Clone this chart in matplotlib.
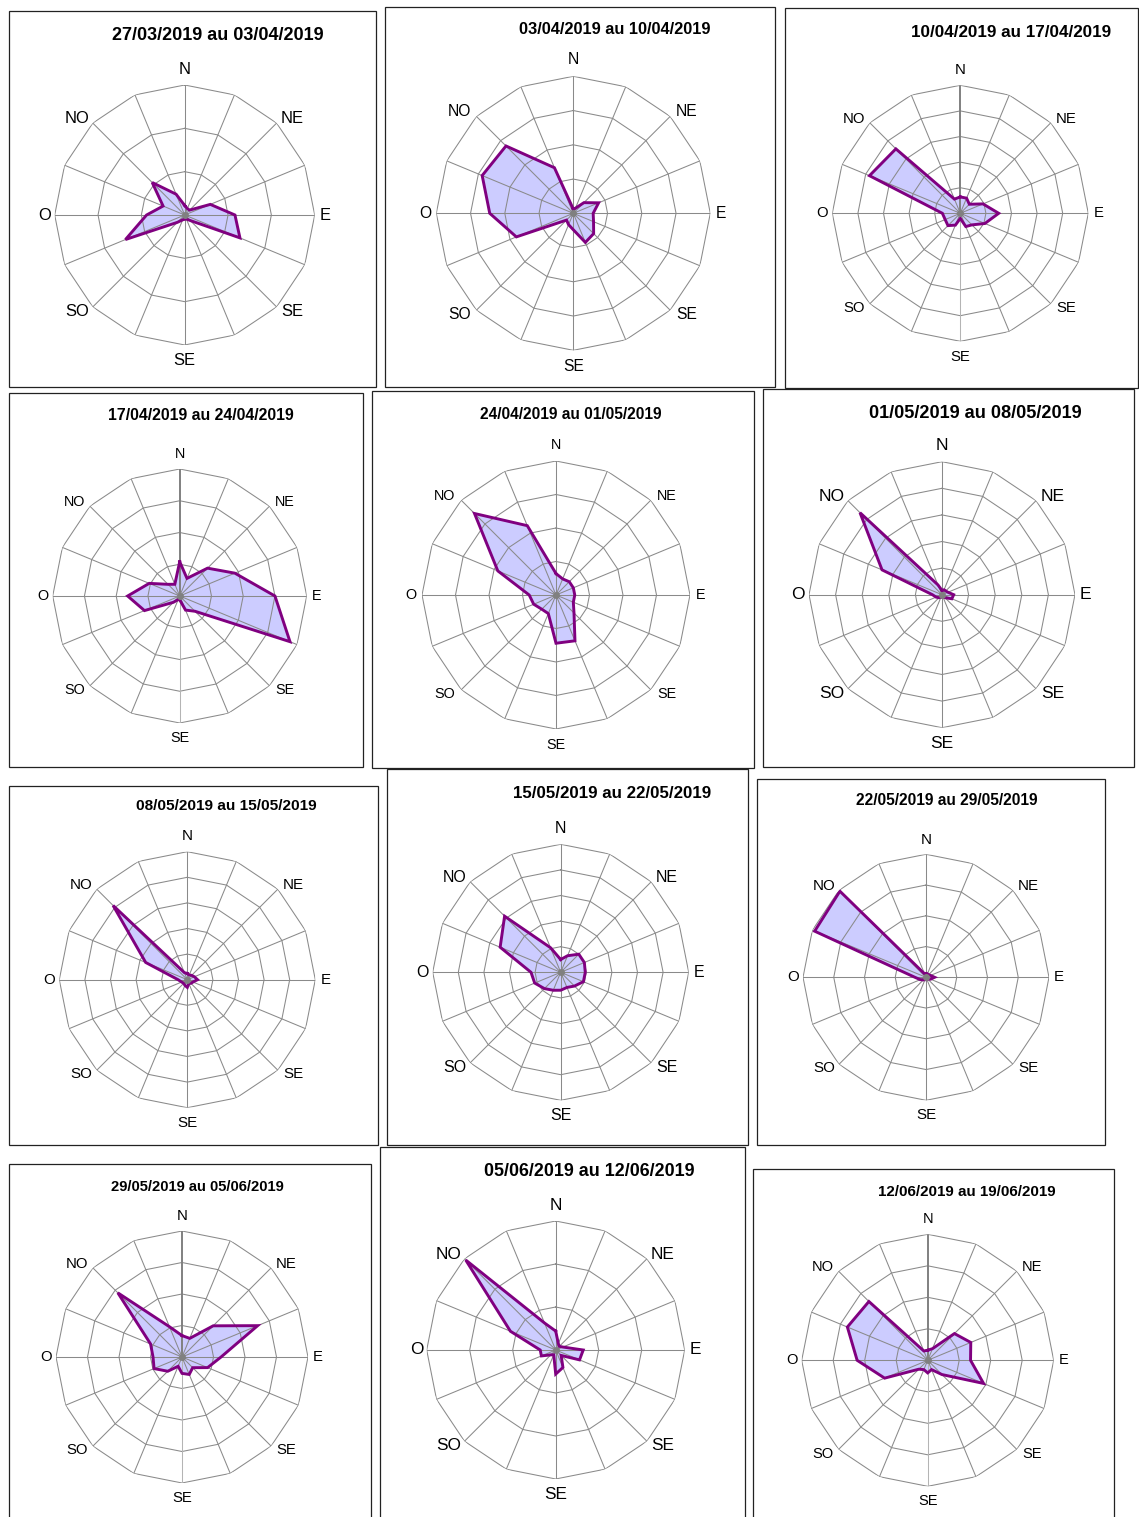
import numpy as np
import matplotlib
matplotlib.use('Agg')
import matplotlib.pyplot as plt
from matplotlib.patches import Rectangle

plt.rcParams['font.family'] = ['Liberation Sans', 'DejaVu Sans']

W, H, DPI = 1139, 1517, 100

# 16 secteurs, sens horaire depuis le nord
directions = ['N', 'NNE', 'NE', 'ENE', 'E', 'ESE', 'SE', 'SSE',
              'S', 'SSO', 'SO', 'OSO', 'O', 'ONO', 'NO', 'NNO']
axis_labels = ['N', 'NE', 'E', 'SE', 'SE', 'SO', 'O', 'NO']

periods = [
    '27/03/2019 au 03/04/2019', '03/04/2019 au 10/04/2019', '10/04/2019 au 17/04/2019',
    '17/04/2019 au 24/04/2019', '24/04/2019 au 01/05/2019', '01/05/2019 au 08/05/2019',
    '08/05/2019 au 15/05/2019', '15/05/2019 au 22/05/2019', '22/05/2019 au 29/05/2019',
    '29/05/2019 au 05/06/2019', '05/06/2019 au 12/06/2019', '12/06/2019 au 19/06/2019',
]

# fréquence (%) par secteur
freq_01 = [1.1, 0.8, 0.8, 3.2, 5.8, 6.9, 0.9, 0.5, 0.5, 0.6, 1.2, 7.4, 4.4, 2.7, 5.3, 2.6]
freq_02 = [0.6, 0.8, 2.2, 4.0, 2.9, 3.2, 4.2, 4.6, 2.4, 1.8, 1.4, 9.0, 12.2, 14.4, 13.9, 7.2]
freq_03 = [3.2, 3.2, 2.5, 4.8, 7.5, 5.2, 3.2, 2.8, 1.0, 2.5, 3.4, 3.2, 3.5, 19.2, 17.8, 3.0]
freq_04 = [5.4, 3.0, 6.2, 9.4, 15.0, 18.8, 3.4, 2.4, 0.6, 0.6, 1.4, 6.0, 8.2, 5.2, 2.6, 2.0]
freq_05 = [3.2, 2.6, 2.8, 2.8, 2.8, 2.8, 3.8, 7.4, 7.2, 3.0, 3.0, 3.6, 4.0, 9.4, 17.2, 11.2]
freq_06 = [0.8, 1.0, 1.0, 1.2, 2.2, 2.0, 0.8, 0.5, 0.5, 0.5, 0.8, 1.2, 1.8, 12.2, 21.8, 2.0]
freq_07 = [1.2, 1.0, 1.2, 1.5, 2.0, 1.2, 1.0, 0.8, 1.5, 1.2, 1.0, 1.2, 1.8, 8.8, 20.5, 1.5]
freq_08 = [2.5, 3.5, 5.0, 5.0, 4.8, 4.8, 3.8, 3.2, 3.5, 3.8, 4.5, 5.5, 5.8, 12.8, 15.5, 5.2]
freq_09 = [0.6, 0.6, 0.6, 0.8, 1.4, 0.8, 0.4, 0.4, 0.4, 0.4, 0.6, 1.0, 1.8, 19.6, 19.8, 0.6]
freq_10 = [3.4, 3.2, 7.0, 13.0, 6.2, 4.4, 2.4, 3.0, 2.6, 1.6, 3.2, 4.8, 4.6, 5.4, 14.4, 5.2]
freq_11 = [2.2, 0.8, 0.6, 0.9, 3.2, 3.0, 0.9, 2.2, 2.8, 0.6, 0.8, 1.8, 1.8, 5.7, 14.8, 3.4]
freq_12 = [1.6, 2.0, 6.0, 7.4, 6.8, 9.6, 3.2, 1.6, 2.0, 1.6, 2.0, 7.4, 11.2, 13.8, 13.2, 1.6]

series = [freq_01, freq_02, freq_03, freq_04, freq_05, freq_06,
          freq_07, freq_08, freq_09, freq_10, freq_11, freq_12]

ring_step = 5
ring_counts = [3, 4, 5, 4, 4, 5, 5, 5, 4, 4, 3, 4]

# mise en page en pixels : cadre (x0, y0, x1, y1), centre + rayon, titre
frames = [(9, 11, 376, 387), (385, 7, 775, 387), (785, 8, 1138, 388),
          (9, 393, 363, 767), (372, 391, 754, 768), (763, 389, 1134, 767),
          (9, 786, 378, 1145), (387, 769, 748, 1145), (757, 779, 1105, 1145),
          (9, 1164, 371, 1530), (380, 1147, 745, 1530), (753, 1169, 1114, 1530)]
centers = [(184.7, 215, 130), (573.3, 213.3, 137), (960.3, 213.3, 128),
           (179.7, 596, 127), (556, 595, 134), (942, 594.7, 133),
           (187.3, 979.7, 128), (560.7, 972.3, 128), (926, 977.3, 123),
           (182, 1357, 126), (555.7, 1350, 129), (927.7, 1360.3, 126)]
title_pos = [(218, 35), (614.7, 30), (1011, 32.3), (201, 415.3), (571, 414.3), (975.3, 413),
             (226, 806.3), (611.7, 793), (946.7, 800.7), (197.7, 1187), (589, 1172), (966.7, 1192)]
title_px = [18, 16.4, 17, 15.9, 15.5, 18.2, 15.4, 16.9, 15.5, 14.7, 17.9, 15.1]
label_px = [16.5, 15.6, 14.9, 14.4, 14.4, 17.5, 15.1, 16, 15.1, 14.9, 17.3, 14.6]
bold_north = [2, 3, 9, 11]   # graphes où l'axe des valeurs est tracé plus épais

GRID = '#8a8a8a'
FILL = '#ccccff'
EDGE = '#800080'

theta = np.deg2rad(np.arange(len(directions)) * 22.5)
theta_c = np.append(theta, theta[0])

# position des étiquettes (x, y) en fraction du rayon
label_xy = [(0, 1.12), (0.83, 0.74), (1.08, 0), (0.83, -0.74),
            (0, -1.12), (-0.83, -0.74), (-1.08, 0), (-0.83, 0.74)]

fig = plt.figure(figsize=(W / DPI, H / DPI), dpi=DPI)


def fig_rect(x0, y0, x1, y1):
    return [x0 / W, 1 - y1 / H, (x1 - x0) / W, (y1 - y0) / H]


for i, vals in enumerate(series):
    x0, y0, x1, y1 = frames[i]
    fig.add_artist(Rectangle((x0 / W, 1 - y1 / H), (x1 - x0) / W, (y1 - y0) / H,
                             transform=fig.transFigure, fill=False,
                             edgecolor='#222222', linewidth=0.9))

    cx, cy, R = centers[i]
    ax = fig.add_axes(fig_rect(cx - R, cy - R, cx + R, cy + R), projection='polar')
    ax.set_theta_zero_location('N')
    ax.set_theta_direction(-1)
    rmax = ring_counts[i] * ring_step
    ax.set_ylim(0, rmax)
    ax.set_axis_off()

    v = np.append(vals, vals[0])
    ax.fill(theta_c, v, color=FILL, lw=0, zorder=1)

    # anneaux polygonaux et rayons
    for k in range(1, ring_counts[i] + 1):
        ax.plot(theta_c, np.full(theta_c.size, k * ring_step), color=GRID, lw=0.75, zorder=2)
    for j, t in enumerate(theta):
        col, lw = GRID, 0.75
        if i in bold_north and j == 0:
            col, lw = '#808080', 1.4
        elif i in bold_north and j == 8:
            col = '#b4b4b4'
        ax.plot([t, t], [0, rmax], color=col, lw=lw, zorder=2)

    ax.plot(theta_c, v, color=EDGE, lw=2.1, zorder=3, solid_joinstyle='miter')
    ax.plot([0], [0], 'o', color='#808080', ms=4, zorder=4)

    for (lx, ly), lbl in zip(label_xy, axis_labels):
        t = np.arctan2(lx, ly)
        ax.text(t, rmax * np.hypot(lx, ly), lbl, ha='center', va='center',
                fontsize=label_px[i] * 0.72, clip_on=False)

    tx, ty = title_pos[i]
    fig.text(tx / W, 1 - ty / H, periods[i], ha='center', va='center',
             fontsize=title_px[i] * 0.72, fontweight='bold')

fig.savefig('out.png', dpi=DPI, facecolor='white')
